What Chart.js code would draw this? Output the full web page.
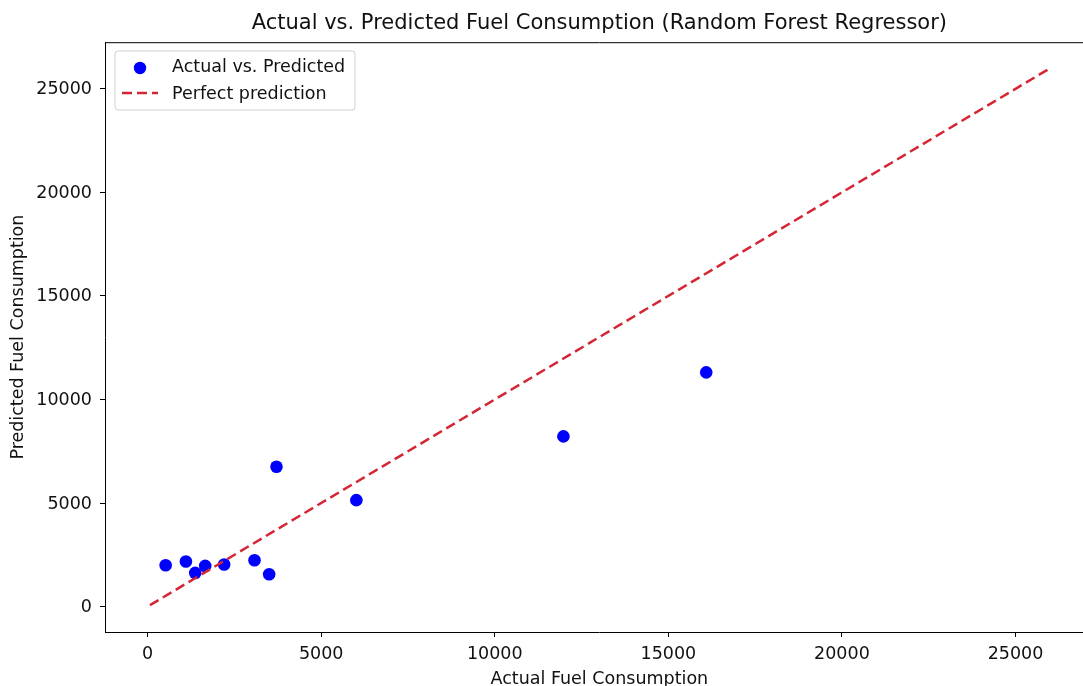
<!DOCTYPE html>
<html>
<head>
<meta charset="utf-8">
<script src="https://cdn.jsdelivr.net/npm/chart.js@4.4.0/dist/chart.umd.min.js"></script>
<style>
  html, body { margin: 0; padding: 0; background: #fff; overflow: hidden; }
  #wrap { width: 1100px; height: 700px; }
</style>
</head>
<body>
<div id="wrap"><canvas id="c" width="1100" height="700"></canvas></div>
<script>
// ---- data ----
const actualValues    = [518, 1102, 1370, 1658, 2204, 3078, 3500, 3711, 6012, 11977, 16091];
const predictedValues = [1996, 2175, 1624, 1962, 2030, 2238, 1561, 6748, 5138, 8217, 11310];
const perfectLine     = [66, 25958];
const xTicks = [0, 5000, 10000, 15000, 20000, 25000];
const yTicks = [0, 5000, 10000, 15000, 20000, 25000];
const axisMin = -1229;
const axisMax = 27253;

const titleText = 'Actual vs. Predicted Fuel Consumption (Random Forest Regressor)';
const xLabel = 'Actual Fuel Consumption';
const yLabel = 'Predicted Fuel Consumption';
const seriesLabels = ['Actual vs. Predicted', 'Perfect prediction'];

const FONT = "'DejaVu Sans', sans-serif";
const TXT = '#111';
const LINE_RED = '#d42634';
const FS = 17.5;

const scatterPts = actualValues.map((x, i) => ({ x: x, y: predictedValues[i] }));
const linePts = perfectLine.map(v => ({ x: v, y: v }));

const framePlugin = {
  id: 'frame',
  afterDraw(chart) {
    const { ctx, chartArea: a } = chart;
    ctx.save();
    ctx.strokeStyle = '#000';
    ctx.lineWidth = 1;
    ctx.beginPath();
    ctx.moveTo(a.left, a.top + 0.5);
    ctx.lineTo(a.right, a.top + 0.5);
    ctx.moveTo(a.right - 0.5, a.top);
    ctx.lineTo(a.right - 0.5, a.bottom);
    ctx.stroke();

    // legend
    const bx = 115, by = 51, bw = 240, bh = 59, r = 3;
    ctx.fillStyle = 'rgba(255,255,255,0.85)';
    ctx.strokeStyle = '#d0d0d0';
    ctx.beginPath();
    ctx.moveTo(bx + r, by);
    ctx.lineTo(bx + bw - r, by);
    ctx.quadraticCurveTo(bx + bw, by, bx + bw, by + r);
    ctx.lineTo(bx + bw, by + bh - r);
    ctx.quadraticCurveTo(bx + bw, by + bh, bx + bw - r, by + bh);
    ctx.lineTo(bx + r, by + bh);
    ctx.quadraticCurveTo(bx, by + bh, bx, by + bh - r);
    ctx.lineTo(bx, by + r);
    ctx.quadraticCurveTo(bx, by, bx + r, by);
    ctx.closePath();
    ctx.fill();
    ctx.stroke();

    ctx.fillStyle = '#0000ff';
    ctx.beginPath();
    ctx.arc(140, 68, 6.2, 0, Math.PI * 2);
    ctx.fill();

    ctx.strokeStyle = LINE_RED;
    ctx.lineWidth = 2.5;
    ctx.setLineDash([10, 5]);
    ctx.beginPath();
    ctx.moveTo(122, 93);
    ctx.lineTo(158, 93);
    ctx.stroke();
    ctx.setLineDash([]);

    ctx.fillStyle = TXT;
    ctx.font = FS + 'px ' + FONT;
    ctx.textBaseline = 'middle';
    ctx.textAlign = 'left';
    ctx.fillText(seriesLabels[0], 172, 67.5);
    ctx.fillText(seriesLabels[1], 172, 94);
    ctx.restore();
  }
};

new Chart(document.getElementById('c'), {
  type: 'scatter',
  data: {
    datasets: [
      {
        type: 'line',
        label: seriesLabels[1],
        data: linePts,
        borderColor: LINE_RED,
        borderWidth: 2.5,
        borderDash: [10, 5],
        pointRadius: 0,
        fill: false,
        order: 0
      },
      {
        label: seriesLabels[0],
        data: scatterPts,
        backgroundColor: '#0000ff',
        borderWidth: 0,
        pointRadius: 6.3,
        pointHoverRadius: 6.3,
        order: 1
      }
    ]
  },
  plugins: [framePlugin],
  options: {
    responsive: false,
    animation: false,
    devicePixelRatio: 1,
    layout: { padding: { left: 0, right: 5, top: 0, bottom: 0 } },
    plugins: {
      legend: { display: false },
      tooltip: { enabled: false },
      title: {
        display: true,
        text: titleText,
        fullSize: false,
        color: TXT,
        font: { family: FONT, size: 21, weight: 'normal' },
        padding: { top: 11, bottom: 6 }
      }
    },
    scales: {
      x: {
        type: 'linear',
        min: axisMin,
        max: axisMax,
        afterFit(s) { s.height = 68; },
        afterBuildTicks(s) { s.ticks = xTicks.map(v => ({ value: v })); },
        grid: { display: true, drawOnChartArea: false, drawTicks: true, tickLength: 5, color: '#000', lineWidth: 1 },
        border: { display: true, color: '#000', width: 1 },
        ticks: { color: TXT, font: { family: FONT, size: FS }, padding: 7, maxRotation: 0, autoSkip: false, callback: v => String(v) },
        title: { display: true, text: xLabel, color: TXT, font: { family: FONT, size: FS }, padding: { top: 0, bottom: 10 } }
      },
      y: {
        type: 'linear',
        min: axisMin,
        max: axisMax,
        afterFit(s) { s.width = 105; },
        afterBuildTicks(s) { s.ticks = yTicks.map(v => ({ value: v })); },
        grid: { display: true, drawOnChartArea: false, drawTicks: true, tickLength: 5, color: '#000', lineWidth: 1 },
        border: { display: true, color: '#000', width: 1 },
        ticks: { color: TXT, font: { family: FONT, size: FS }, padding: 8, labelOffset: 1, autoSkip: false, callback: v => String(v) },
        title: { display: true, text: yLabel, color: TXT, font: { family: FONT, size: FS }, padding: { top: 8, bottom: 0 } }
      }
    }
  }
});
</script>
</body>
</html>
